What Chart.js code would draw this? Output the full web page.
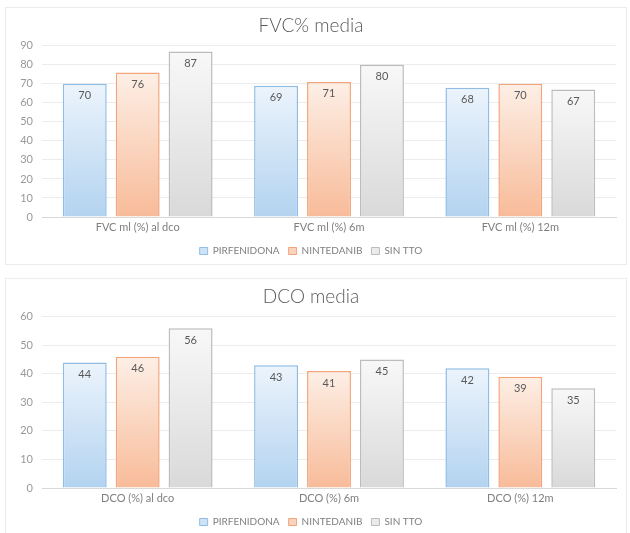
<!DOCTYPE html>
<html>
<head>
<meta charset="utf-8">
<script src="https://cdn.jsdelivr.net/npm/chart.js@4/dist/chart.umd.min.js"></script>
<style>
  html, body { margin: 0; padding: 0; background: #fff; overflow: hidden; }
  body { width: 630px; height: 533px; position: relative; }
  .panel { position: absolute; left: 5px; width: 622px; height: 258px; border: 1px solid #ececec; box-sizing: border-box; }
  #p1 { top: 7px; }
  #p2 { top: 278px; }
  canvas { display: block; }
</style>
</head>
<body>
<div class="panel" id="p1"><canvas id="c1" width="620" height="256"></canvas></div>
<div class="panel" id="p2"><canvas id="c2" width="620" height="256"></canvas></div>
<script>
// Series names
const seriesNames = ['PIRFENIDONA', 'NINTEDANIB', 'SIN TTO'];

// FVC% media
const fvcCategories = ['FVC ml (%) al dco', 'FVC ml (%) 6m', 'FVC ml (%) 12m'];
const fvcPirfenidona = [70, 69, 68];
const fvcNintedanib = [76, 71, 70];
const fvcSinTto = [87, 80, 67];
const fvcTicks = [0, 10, 20, 30, 40, 50, 60, 70, 80, 90];

// DCO media
const dcoCategories = ['DCO (%) al dco', 'DCO (%) 6m', 'DCO (%) 12m'];
const dcoPirfenidona = [44, 43, 42];
const dcoNintedanib = [46, 41, 39];
const dcoSinTto = [56, 45, 35];
const dcoTicks = [0, 10, 20, 30, 40, 50, 60];

// Fill gradients (top, bottom) and outlines per series
const palette = [
  { top: '#ecf4fc', bottom: '#b3d3f0', border: '#8fbde5', legend: '#cfe3f6' },
  { top: '#fdefe6', bottom: '#f8bb99', border: '#f2a57a', legend: '#fad3bd' },
  { top: '#f8f8f8', bottom: '#d9d9d9', border: '#bcbcbc', legend: '#ebebeb' }
];

const FONT = 'Lato, "Open Sans", sans-serif';

function barGradient(ctx, idx) {
  const chart = ctx.chart;
  const area = chart.chartArea;
  const p = palette[idx];
  if (!area || ctx.type !== 'data') return p.legend;
  const y = chart.scales.y;
  const v = ctx.raw;
  const topPx = y.getPixelForValue(v);
  const botPx = y.getPixelForValue(0);
  const g = chart.ctx.createLinearGradient(0, topPx, 0, botPx);
  g.addColorStop(0, p.top);
  g.addColorStop(1, p.bottom);
  return g;
}

// Value labels drawn inside the top of every bar
const valueLabels = {
  id: 'valueLabels',
  afterDatasetsDraw(chart) {
    const c = chart.ctx;
    c.save();
    c.font = '11px ' + FONT;
    c.fillStyle = '#595959';
    c.textAlign = 'center';
    c.textBaseline = 'middle';
    chart.data.datasets.forEach((ds, i) => {
      chart.getDatasetMeta(i).data.forEach((bar, j) => {
        c.fillText(String(ds.data[j]), bar.x, bar.y + 12);
      });
    });
    c.restore();
  }
};

function build(canvasId, title, categories, values, ticks) {
  const maxTick = ticks[ticks.length - 1];
  return new Chart(document.getElementById(canvasId), {
    type: 'bar',
    data: {
      labels: categories,
      datasets: values.map((vals, i) => ({
        label: seriesNames[i],
        data: vals,
        backgroundColor: (ctx) => barGradient(ctx, i),
        borderColor: palette[i].border,
        borderWidth: 1.5,
        borderSkipped: 'bottom',
        categoryPercentage: 0.83,
        barPercentage: 0.83
      }))
    },
    options: {
      responsive: false,
      animation: false,
      events: [],
      layout: { padding: { left: 0, right: 10, top: 0, bottom: -2 } },
      plugins: {
        title: {
          display: true,
          text: title,
          color: '#595959',
          font: { family: FONT, size: 19, weight: '300' },
          padding: { top: 6, bottom: 9 }
        },
        legend: {
          position: 'bottom',
          labels: {
            color: '#7f7f7f',
            font: { family: FONT, size: 10 },
            boxWidth: 8,
            boxHeight: 7,
            padding: 9,
            generateLabels: (chart) => chart.data.datasets.map((ds, i) => ({
              text: ds.label,
              fillStyle: palette[i].legend,
              strokeStyle: palette[i].border,
              lineWidth: 1,
              datasetIndex: i,
              fontColor: '#7f7f7f'
            }))
          }
        },
        tooltip: { enabled: false }
      },
      scales: {
        x: {
          afterFit: (scale) => { scale.height = 20; },
          grid: { display: false, drawTicks: false },
          border: { display: true, color: '#d9d9d9', width: 1 },
          ticks: { color: '#7f7f7f', font: { family: FONT, size: 11 }, padding: 4 }
        },
        y: {
          min: 0,
          max: maxTick,
          afterBuildTicks: (scale) => { scale.ticks = ticks.map(v => ({ value: v })); },
          afterFit: (scale) => { scale.width = 36; },
          grid: { color: '#ececec', drawTicks: false },
          border: { display: false },
          ticks: { color: '#999999', font: { family: FONT, size: 11 }, padding: 9 }
        }
      }
    },
    plugins: [valueLabels]
  });
}

build('c1', 'FVC% media', fvcCategories, [fvcPirfenidona, fvcNintedanib, fvcSinTto], fvcTicks);
build('c2', 'DCO media', dcoCategories, [dcoPirfenidona, dcoNintedanib, dcoSinTto], dcoTicks);
</script>
</body>
</html>
